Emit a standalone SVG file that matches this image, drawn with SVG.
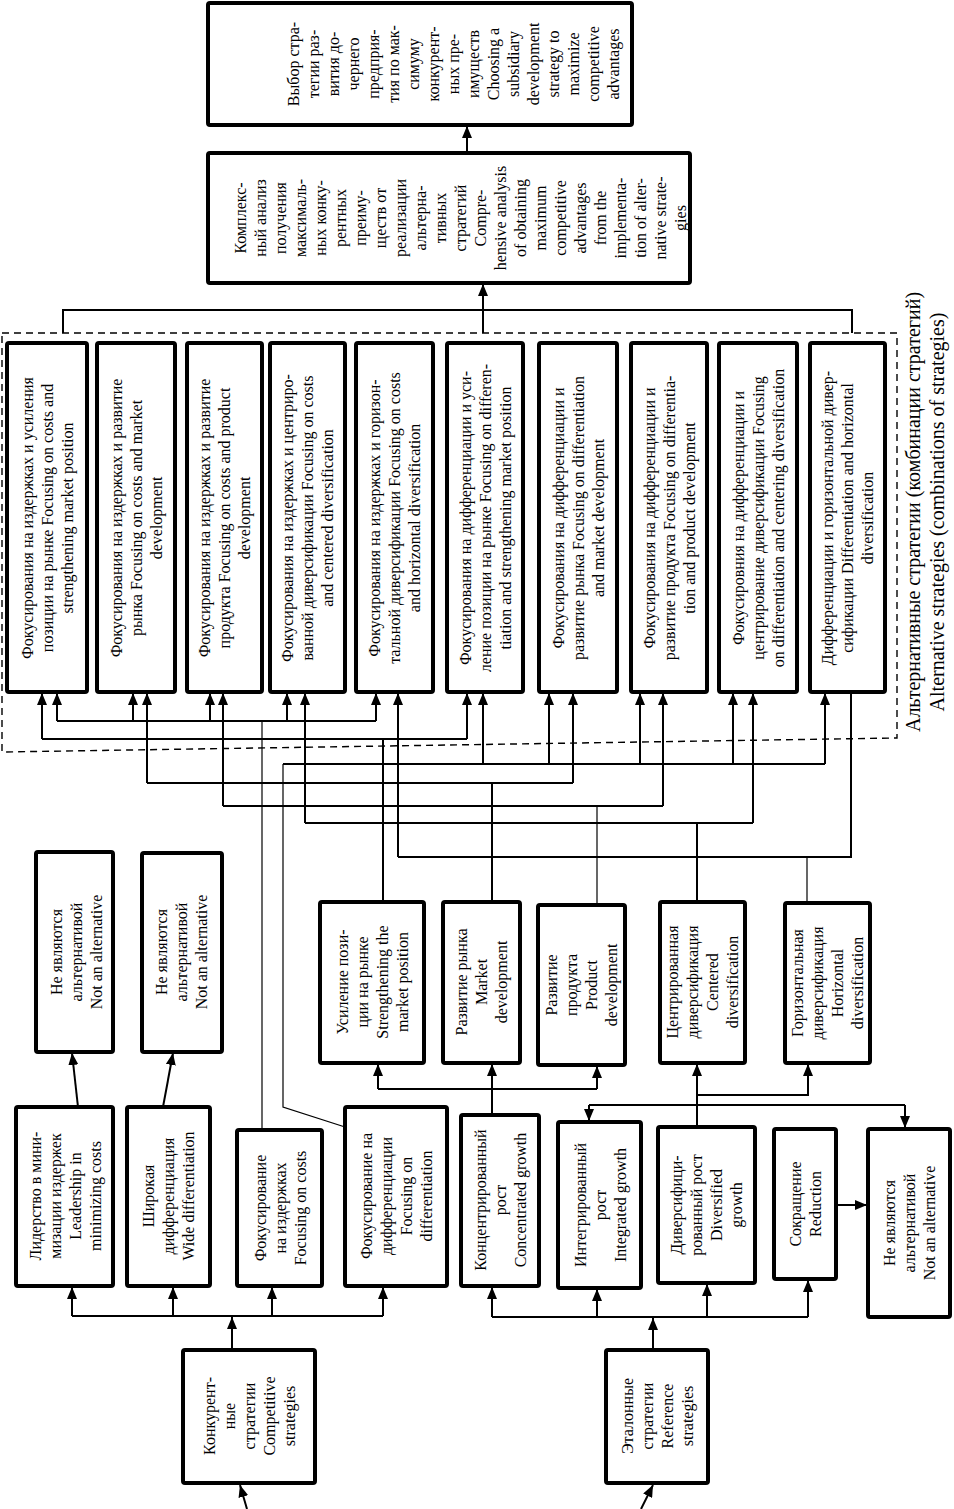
<svg xmlns="http://www.w3.org/2000/svg" width="954" height="1509" viewBox="0 0 954 1509">
<defs>
<marker id="ah" viewBox="0 0 12 10" refX="12" refY="5" markerWidth="12" markerHeight="10" markerUnits="userSpaceOnUse" orient="auto"><path d="M0,0 L12,5 L0,10 Z" fill="#000"/></marker>
</defs>
<style>
.box{fill:#fff;stroke:#000;stroke-width:4}
.t{font-family:"Liberation Serif","Times New Roman",serif;font-size:16px;fill:#000;text-anchor:middle}
.cap{font-size:20px}
.c{fill:none;stroke:#000;stroke-width:2}
.thin{fill:none;stroke:#000;stroke-width:1.2}
.a{marker-end:url(#ah)}
.dash{fill:none;stroke:#000;stroke-width:1.4;stroke-dasharray:7,5}
</style>
<rect width="954" height="1509" fill="#fff"/>

<g id="connectors">
<path class="c a" d="M467,153 V126"/>
<path class="c a" d="M483,333 V284"/>
<path class="c" d="M63,333 V310 H852 V333"/>
<path class="thin" d="M262,1130 V721"/>
<path class="c" d="M57,721 H376"/>
<path class="c a" d="M57,721 V693"/>
<path class="c a" d="M133,721 V693"/>
<path class="c a" d="M210,721 V693"/>
<path class="c a" d="M287,721 V693"/>
<path class="c a" d="M376,721 V693"/>
<path class="c" d="M383,902 V739"/>
<path class="c" d="M42,739 H467"/>
<path class="c a" d="M42,739 V693"/>
<path class="c a" d="M467,739 V693"/>
<path class="thin" d="M345,1127 L283,1107 V764"/>
<path class="c" d="M283,764 H825"/>
<path class="c a" d="M483,764 V693"/>
<path class="c a" d="M549,764 V693"/>
<path class="c a" d="M640,764 V693"/>
<path class="c a" d="M733,764 V693"/>
<path class="c a" d="M825,764 V693"/>
<path class="c" d="M492,902 V783"/>
<path class="c" d="M147,783 H573"/>
<path class="c a" d="M147,783 V693"/>
<path class="c a" d="M573,783 V693"/>
<path class="thin" d="M597,905 V806"/>
<path class="c" d="M223,806 H663"/>
<path class="c a" d="M223,806 V693"/>
<path class="c a" d="M663,806 V693"/>
<path class="c" d="M697,902 V823"/>
<path class="c" d="M305,823 H753"/>
<path class="c a" d="M305,823 V693"/>
<path class="c a" d="M753,823 V693"/>
<path class="thin" d="M807,903 V857"/>
<path class="c" d="M398,857 H851 V692"/>
<path class="c a" d="M398,857 V693"/>
<path class="c a" d="M492,1115 V1064"/>
<path class="c" d="M378,1089 H597"/>
<path class="c a" d="M378,1089 V1064"/>
<path class="c a" d="M597,1089 V1066"/>
<path class="c a" d="M697,1127 V1064"/>
<path class="c a" d="M697,1095 H808 V1064"/>
<path class="c" d="M589,1105 H905"/>
<path class="c a" d="M589,1105 V1121"/>
<path class="c a" d="M905,1105 V1128"/>
<path class="c a" d="M78,1107 L72,1053"/>
<path class="c a" d="M163,1107 L173,1053"/>
<path class="c a" d="M232,1350 V1317"/>
<path class="c" d="M72,1316 H383"/>
<path class="c a" d="M72,1316 V1287"/>
<path class="c a" d="M173,1316 V1287"/>
<path class="c a" d="M272,1316 V1287"/>
<path class="c a" d="M383,1316 V1287"/>
<path class="c a" d="M653,1350 V1318"/>
<path class="c" d="M492,1317 H808"/>
<path class="c a" d="M492,1317 V1287"/>
<path class="c a" d="M597,1317 V1289"/>
<path class="c a" d="M707,1317 V1284"/>
<path class="c a" d="M808,1317 V1280"/>
<path class="c a" d="M247,1509 L240,1485"/>
<path class="c a" d="M641,1509 L653,1485"/>
<path class="c a" d="M836,1205 H867"/>
</g>

<g id="alt-group">
<path class="dash" d="M2,333 H897 V738 L2,752 Z"/>
<text class="t cap" transform="translate(925,512) rotate(-90)"><tspan x="0" y="-5">Альтернативные стратегии (комбинации стратегий)</tspan><tspan x="0" y="19">Alternative strategies (combinations of strategies)</tspan></text>
</g>

<g id="n-choice">
<rect class="box" x="208" y="3" width="424" height="122" rx="2"/>
<text class="t" transform="translate(453,64) rotate(-90)"><tspan x="0" y="-154.5">Выбор стра-</tspan><tspan x="0" y="-134.5">тегии раз-</tspan><tspan x="0" y="-114.5">вития до-</tspan><tspan x="0" y="-94.5">чернего</tspan><tspan x="0" y="-74.5">предприя-</tspan><tspan x="0" y="-54.5">тия по мак-</tspan><tspan x="0" y="-34.5">симуму</tspan><tspan x="0" y="-14.5">конкурент-</tspan><tspan x="0" y="5.5">ных пре-</tspan><tspan x="0" y="25.5">имуществ</tspan><tspan x="0" y="45.5">Choosing a</tspan><tspan x="0" y="65.5">subsidiary</tspan><tspan x="0" y="85.5">development</tspan><tspan x="0" y="105.5">strategy to</tspan><tspan x="0" y="125.5">maximize</tspan><tspan x="0" y="145.5">competitive</tspan><tspan x="0" y="165.5">advantages</tspan></text>
</g>

<g id="n-analysis">
<rect class="box" x="208" y="153" width="482" height="130" rx="2"/>
<text class="t" transform="translate(460,218) rotate(-90)"><tspan x="0" y="-214.5">Комплекс-</tspan><tspan x="0" y="-194.5">ный анализ</tspan><tspan x="0" y="-174.5">получения</tspan><tspan x="0" y="-154.5">максималь-</tspan><tspan x="0" y="-134.5">ных конку-</tspan><tspan x="0" y="-114.5">рентных</tspan><tspan x="0" y="-94.5">преиму-</tspan><tspan x="0" y="-74.5">ществ от</tspan><tspan x="0" y="-54.5">реализации</tspan><tspan x="0" y="-34.5">альтерна-</tspan><tspan x="0" y="-14.5">тивных</tspan><tspan x="0" y="5.5">стратегий</tspan><tspan x="0" y="25.5">Compre-</tspan><tspan x="0" y="45.5">hensive analysis</tspan><tspan x="0" y="65.5">of obtaining</tspan><tspan x="0" y="85.5">maximum</tspan><tspan x="0" y="105.5">competitive</tspan><tspan x="0" y="125.5">advantages</tspan><tspan x="0" y="145.5">from the</tspan><tspan x="0" y="165.5">implementa-</tspan><tspan x="0" y="185.5">tion of alter-</tspan><tspan x="0" y="205.5">native strate-</tspan><tspan x="0" y="225.5">gies</tspan></text>
</g>

<g id="alt1"><rect class="box" x="7" y="343" width="80" height="349" rx="2"/>
<text class="t" transform="translate(47,518) rotate(-90)"><tspan x="0" y="-14.5">Фокусирования на издержках и усиления</tspan><tspan x="0" y="5.5">позиции на рынке Focusing on costs and</tspan><tspan x="0" y="25.5">strengthening market position</tspan></text></g>
<g id="alt2"><rect class="box" x="97" y="343" width="78" height="349" rx="2"/>
<text class="t" transform="translate(136,518) rotate(-90)"><tspan x="0" y="-14.5">Фокусирования на издержках и развитие</tspan><tspan x="0" y="5.5">рынка Focusing on costs and market</tspan><tspan x="0" y="25.5">development</tspan></text></g>
<g id="alt3"><rect class="box" x="187" y="343" width="75" height="349" rx="2"/>
<text class="t" transform="translate(224.5,518) rotate(-90)"><tspan x="0" y="-14.5">Фокусирования на издержках и развитие</tspan><tspan x="0" y="5.5">продукта Focusing on costs and product</tspan><tspan x="0" y="25.5">development</tspan></text></g>
<g id="alt4"><rect class="box" x="270" y="343" width="75" height="349" rx="2"/>
<text class="t" transform="translate(307.5,518) rotate(-90)"><tspan x="0" y="-14.5">Фокусирования на издержках и центриро-</tspan><tspan x="0" y="5.5">ванной диверсификации Focusing on costs</tspan><tspan x="0" y="25.5">and centered diversification</tspan></text></g>
<g id="alt5"><rect class="box" x="356" y="343" width="77" height="349" rx="2"/>
<text class="t" transform="translate(394.5,518) rotate(-90)"><tspan x="0" y="-14.5">Фокусирования на издержках и горизон-</tspan><tspan x="0" y="5.5">тальной диверсификации Focusing on costs</tspan><tspan x="0" y="25.5">and horizontal diversification</tspan></text></g>
<g id="alt6"><rect class="box" x="447" y="343" width="76" height="349" rx="2"/>
<text class="t" transform="translate(485,518) rotate(-90)"><tspan x="0" y="-14.5">Фокусирования на дифференциации и уси-</tspan><tspan x="0" y="5.5">ление позиции на рынке Focusing on differen-</tspan><tspan x="0" y="25.5">tiation and strengthening market position</tspan></text></g>
<g id="alt7"><rect class="box" x="539" y="343" width="78" height="349" rx="2"/>
<text class="t" transform="translate(578,518) rotate(-90)"><tspan x="0" y="-14.5">Фокусирования на дифференциации и</tspan><tspan x="0" y="5.5">развитие рынка Focusing on differentiation</tspan><tspan x="0" y="25.5">and market development</tspan></text></g>
<g id="alt8"><rect class="box" x="631" y="343" width="76" height="349" rx="2"/>
<text class="t" transform="translate(669,518) rotate(-90)"><tspan x="0" y="-14.5">Фокусирования на дифференциации и</tspan><tspan x="0" y="5.5">развитие продукта Focusing on differentia-</tspan><tspan x="0" y="25.5">tion and product development</tspan></text></g>
<g id="alt9"><rect class="box" x="719" y="343" width="78" height="349" rx="2"/>
<text class="t" transform="translate(758,518) rotate(-90)"><tspan x="0" y="-14.5">Фокусировния на дифференциации и</tspan><tspan x="0" y="5.5">центрирование диверсификации Focusing</tspan><tspan x="0" y="25.5">on differentiation and centering diversification</tspan></text></g>
<g id="alt10"><rect class="box" x="810" y="343" width="75" height="349" rx="2"/>
<text class="t" transform="translate(847.5,518) rotate(-90)"><tspan x="0" y="-14.5">Дифференциации и горизонтальной дивер-</tspan><tspan x="0" y="5.5">сификации Differentiation and horizontal</tspan><tspan x="0" y="25.5">diversification</tspan></text></g>

<g id="na1"><rect class="box" x="36" y="852" width="77" height="200" rx="2"/>
<text class="t" transform="translate(76,952) rotate(-90)"><tspan x="0" y="-14.5">Не являются</tspan><tspan x="0" y="5.5">альтернативой</tspan><tspan x="0" y="25.5">Not an alternative</tspan></text></g>
<g id="na2"><rect class="box" x="142" y="853" width="80" height="199" rx="2"/>
<text class="t" transform="translate(181,952) rotate(-90)"><tspan x="0" y="-14.5">Не являются</tspan><tspan x="0" y="5.5">альтернативой</tspan><tspan x="0" y="25.5">Not an alternative</tspan></text></g>

<g id="m-strength"><rect class="box" x="320" y="902" width="104" height="161" rx="2"/>
<text class="t" transform="translate(372,982) rotate(-90)"><tspan x="0" y="-24.5">Усиление пози-</tspan><tspan x="0" y="-4.5">ции на рынке</tspan><tspan x="0" y="15.5">Strengthening the</tspan><tspan x="0" y="35.5">market position</tspan></text></g>
<g id="m-market"><rect class="box" x="443" y="902" width="77" height="161" rx="2"/>
<text class="t" transform="translate(481,982) rotate(-90)"><tspan x="0" y="-14.5">Развитие рынка</tspan><tspan x="0" y="5.5">Market</tspan><tspan x="0" y="25.5">development</tspan></text></g>
<g id="m-product"><rect class="box" x="538" y="905" width="87" height="160" rx="2"/>
<text class="t" transform="translate(581,985) rotate(-90)"><tspan x="0" y="-24.5">Развитие</tspan><tspan x="0" y="-4.5">продукта</tspan><tspan x="0" y="15.5">Product</tspan><tspan x="0" y="35.5">development</tspan></text></g>
<g id="m-centered"><rect class="box" x="660" y="902" width="85" height="161" rx="2"/>
<text class="t" transform="translate(702,982) rotate(-90)"><tspan x="0" y="-24.5">Центрированная</tspan><tspan x="0" y="-4.5">диверсификация</tspan><tspan x="0" y="15.5">Centered</tspan><tspan x="0" y="35.5">diversification</tspan></text></g>
<g id="m-horizontal"><rect class="box" x="785" y="903" width="85" height="160" rx="2"/>
<text class="t" transform="translate(827,983) rotate(-90)"><tspan x="0" y="-24.5">Горизонтальная</tspan><tspan x="0" y="-4.5">диверсификация</tspan><tspan x="0" y="15.5">Horizontal</tspan><tspan x="0" y="35.5">diversification</tspan></text></g>

<g id="l-leader"><rect class="box" x="16" y="1107" width="97" height="179" rx="2"/>
<text class="t" transform="translate(65,1196) rotate(-90)"><tspan x="0" y="-24.5">Лидерство в мини-</tspan><tspan x="0" y="-4.5">мизации издержек</tspan><tspan x="0" y="15.5">Leadership in</tspan><tspan x="0" y="35.5">minimizing costs</tspan></text></g>
<g id="l-wide"><rect class="box" x="127" y="1107" width="83" height="179" rx="2"/>
<text class="t" transform="translate(168,1196) rotate(-90)"><tspan x="0" y="-14.5">Широкая</tspan><tspan x="0" y="5.5">дифференциация</tspan><tspan x="0" y="25.5">Wide differentiation</tspan></text></g>
<g id="l-fcost"><rect class="box" x="237" y="1130" width="85" height="156" rx="2"/>
<text class="t" transform="translate(280,1208) rotate(-90)"><tspan x="0" y="-14.5">Фокусирование</tspan><tspan x="0" y="5.5">на издержках</tspan><tspan x="0" y="25.5">Focusing on costs</tspan></text></g>
<g id="l-fdiff"><rect class="box" x="345" y="1107" width="102" height="179" rx="2"/>
<text class="t" transform="translate(396,1196) rotate(-90)"><tspan x="0" y="-24.5">Фокусирование на</tspan><tspan x="0" y="-4.5">дифференциации</tspan><tspan x="0" y="15.5">Focusing on</tspan><tspan x="0" y="35.5">differentiation</tspan></text></g>
<g id="l-conc"><rect class="box" x="461" y="1115" width="78" height="171" rx="2"/>
<text class="t" transform="translate(500,1200) rotate(-90)"><tspan x="0" y="-14.5">Концентрированный</tspan><tspan x="0" y="5.5">рост</tspan><tspan x="0" y="25.5">Concentrated growth</tspan></text></g>
<g id="l-integ"><rect class="box" x="558" y="1122" width="83" height="166" rx="2"/>
<text class="t" transform="translate(600,1205) rotate(-90)"><tspan x="0" y="-14.5">Интегрированный</tspan><tspan x="0" y="5.5">рост</tspan><tspan x="0" y="25.5">Integrated growth</tspan></text></g>
<g id="l-divers"><rect class="box" x="658" y="1127" width="97" height="156" rx="2"/>
<text class="t" transform="translate(706,1205) rotate(-90)"><tspan x="0" y="-24.5">Диверсифици-</tspan><tspan x="0" y="-4.5">рованный рост</tspan><tspan x="0" y="15.5">Diversified</tspan><tspan x="0" y="35.5">growth</tspan></text></g>
<g id="l-reduct"><rect class="box" x="774" y="1129" width="62" height="150" rx="2"/>
<text class="t" transform="translate(805,1204) rotate(-90)"><tspan x="0" y="-4.5">Сокращение</tspan><tspan x="0" y="15.5">Reduction</tspan></text></g>
<g id="na3"><rect class="box" x="868" y="1129" width="82" height="188" rx="2"/>
<text class="t" transform="translate(909,1223) rotate(-90)"><tspan x="0" y="-14.5">Не являются</tspan><tspan x="0" y="5.5">альтернативой</tspan><tspan x="0" y="25.5">Not an alternative</tspan></text></g>

<g id="competitive"><rect class="box" x="183" y="1350" width="132" height="133" rx="2"/>
<text class="t" transform="translate(249,1416) rotate(-90)"><tspan x="0" y="-34.5">Конкурент-</tspan><tspan x="0" y="-14.5">ные</tspan><tspan x="0" y="5.5">стратегии</tspan><tspan x="0" y="25.5">Competitive</tspan><tspan x="0" y="45.5">strategies</tspan></text></g>
<g id="reference"><rect class="box" x="606" y="1350" width="102" height="133" rx="2"/>
<text class="t" transform="translate(657,1416) rotate(-90)"><tspan x="0" y="-24.5">Эталонные</tspan><tspan x="0" y="-4.5">стратегии</tspan><tspan x="0" y="15.5">Reference</tspan><tspan x="0" y="35.5">strategies</tspan></text></g>
</svg>
